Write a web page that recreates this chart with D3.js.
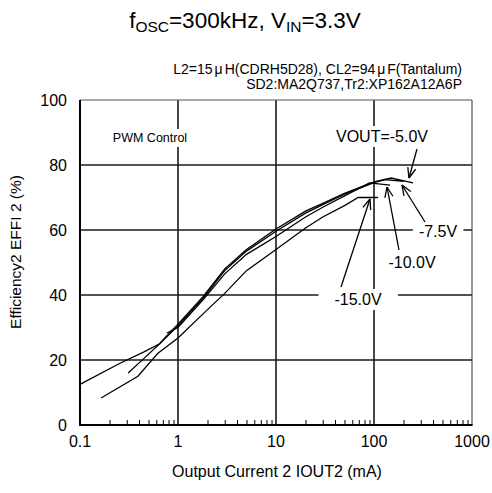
<!DOCTYPE html>
<html><head><meta charset="utf-8">
<script src="https://cdn.jsdelivr.net/npm/d3@7"></script>
<style>body{margin:0;background:#fff}svg{display:block}text{font-family:Arial,"Liberation Sans",sans-serif;fill:#000}</style>
</head><body><svg id="c" width="492" height="493"></svg>
<script>
// ---- data ----
const xTicks = [0.1, 1, 10, 100, 1000];
const xTickLabels = ["0.1", "1", "10", "100", "1000"];
const yTicks = [0, 20, 40, 60, 80, 100];
const seriesNames = ["VOUT=-5.0V", "-7.5V", "-10.0V", "-15.0V"];
const i5 = [0.1, 0.256, 0.45, 0.65, 0.77, 1, 1.8, 3, 5, 10, 20, 30, 50, 100, 150, 250];
const e5 = [12.5, 19, 22.5, 25, 27.5, 31, 39.5, 48, 54, 60.3, 65.8, 68.2, 71.3, 74.8, 76, 74.5];
const i75 = [0.31, 0.45, 0.65, 1, 1.8, 3, 5, 10, 20, 30, 50, 100, 130, 200];
const e75 = [16, 20.5, 25, 30.5, 39, 47.5, 53.5, 59.6, 65.2, 67.8, 71, 74.6, 75.5, 75];
const i10 = [0.77, 1, 1.8, 3, 5, 10, 20, 30, 50, 90, 146];
const e10 = [28.3, 30, 38.5, 46.5, 52.5, 58, 64, 67, 70.5, 74.5, 73.8];
const i15 = [0.164, 0.39, 0.62, 1, 2, 3, 5, 10, 20, 30, 50, 69, 110];
const e15 = [8.3, 15, 22, 26.8, 35.5, 40.5, 47.5, 54, 60.6, 64, 67.5, 70, 70];

const svg = d3.select("#c");
const L = 80, R = 472, T = 100, B = 425;
const x = d3.scaleLog().domain([0.1, 1000]).range([L, R]);
const y = d3.scaleLinear().domain([0, 100]).range([B, T]);

// grid
const g = svg.append("g");
g.selectAll(".hg").data(yTicks.filter(v => v > 0 && v < 100)).enter().append("line")
  .attr("x1", L).attr("x2", R).attr("y1", d => y(d)).attr("y2", d => y(d))
  .attr("stroke", "#1a1a1a").attr("stroke-width", 1.6);
g.selectAll(".vg").data(xTicks.filter(v => v > 0.1 && v < 1000)).enter().append("line")
  .attr("y1", T).attr("y2", B).attr("x1", d => x(d)).attr("x2", d => x(d))
  .attr("stroke", "#1a1a1a").attr("stroke-width", 1.6);
// top/right frame
svg.append("line").attr("x1", L).attr("x2", R).attr("y1", T).attr("y2", T).attr("stroke", "#555").attr("stroke-width", 1);
svg.append("line").attr("x1", R).attr("x2", R).attr("y1", T).attr("y2", B).attr("stroke", "#333").attr("stroke-width", 1);

// bottom axis with minor ticks inside
const minor = [];
for (let d = 0.1; d < 1000; d *= 10) for (let k = 2; k <= 9; k++) minor.push(d * k);
const xAxis = d3.axisBottom(x).tickValues(minor).tickSize(-5).tickFormat("");
const ax = svg.append("g").attr("transform", `translate(0,${B})`).call(xAxis);
ax.select(".domain").remove();
ax.selectAll("line").attr("stroke", "#000").attr("stroke-width", 1);
svg.append("line").attr("x1", L - 1).attr("x2", R + 0.5).attr("y1", B).attr("y2", B).attr("stroke", "#000").attr("stroke-width", 2);
svg.append("line").attr("x1", L).attr("x2", L).attr("y1", T).attr("y2", B + 1).attr("stroke", "#000").attr("stroke-width", 2);

// tick labels
svg.selectAll(".xl").data(xTicks).enter().append("text")
  .attr("x", d => x(d)).attr("y", 447).attr("text-anchor", "middle").attr("font-size", 16)
  .text((d, i) => xTickLabels[i]);
svg.selectAll(".yl").data(yTicks).enter().append("text")
  .attr("x", 67).attr("y", d => y(d) + 6).attr("text-anchor", "end").attr("font-size", 16)
  .text(d => d);

// axis titles
svg.append("text").attr("x", 277).attr("y", 477).attr("text-anchor", "middle").attr("font-size", 16)
  .text("Output Current 2 IOUT2 (mA)");
svg.append("text").attr("transform", "translate(21,252) rotate(-90)").attr("text-anchor", "middle").attr("font-size", 15.5)
  .text("Efficiency2 EFFI 2 (%)");

// title
const t = svg.append("text").attr("x", 245).attr("y", 28).attr("text-anchor", "middle").attr("font-size", 22.5);
t.append("tspan").text("f");
t.append("tspan").attr("font-size", 15.5).attr("dy", 4).text("OSC");
t.append("tspan").attr("dy", -4).text("=300kHz, V");
t.append("tspan").attr("font-size", 15.5).attr("dy", 4).text("IN");
t.append("tspan").attr("dy", -4).text("=3.3V");

const s1 = svg.append("text").attr("x", 462).attr("y", 74).attr("text-anchor", "end").attr("font-size", 14);
s1.append("tspan").text("L2=15");
s1.append("tspan").attr("dx", 2).text("\u03bc");
s1.append("tspan").attr("dx", 2).text("H(CDRH5D28),  CL2=94");
s1.append("tspan").attr("dx", 2).text("\u03bc");
s1.append("tspan").attr("dx", 2).text("F(Tantalum)");
svg.append("text").attr("x", 462).attr("y", 89).attr("text-anchor", "end").attr("font-size", 14)
  .text("SD2:MA2Q737,Tr2:XP162A12A6P");

// curves
const line = d3.line().x(d => x(d[0])).y(d => y(d[1]));
const data = [[i5, e5], [i75, e75], [i10, e10], [i15, e15]].map(([a, b]) => a.map((v, k) => [v, b[k]]));
svg.selectAll(".curve").data(data).enter().append("path")
  .attr("d", line).attr("fill", "none").attr("stroke", "#000").attr("stroke-width", 1.3);

// labels with white boxes
function label(txt, cx, by, fs, pad) {
  const el = svg.append("text").attr("x", cx).attr("y", by).attr("text-anchor", "middle").attr("font-size", fs).text(txt);
  const bb = el.node().getBBox();
  svg.insert("rect", () => el.node()).attr("x", bb.x - pad).attr("y", bb.y - 2).attr("width", bb.width + 2 * pad).attr("height", bb.height + 4).attr("fill", "#fff");
}
label("PWM  Control", 150, 142, 12.5, 3);
label(seriesNames[0], 382, 142, 16, 4);
label(seriesNames[1], 438, 237, 16, 6);
label(seriesNames[2], 412, 268, 16, 4);
label(seriesNames[3], 358, 305, 16, 16);

// arrows (open heads)
function arrow(x1, y1, x2, y2) {
  svg.append("line").attr("x1", x1).attr("y1", y1).attr("x2", x2).attr("y2", y2).attr("stroke", "#000").attr("stroke-width", 1.3);
  const a = Math.atan2(y1 - y2, x1 - x2), len = 11, sp = 0.38;
  [a - sp, a + sp].forEach(b => svg.append("line").attr("x1", x2).attr("y1", y2)
    .attr("x2", x2 + len * Math.cos(b)).attr("y2", y2 + len * Math.sin(b)).attr("stroke", "#000").attr("stroke-width", 1.3));
}
arrow(417, 149, 409, 178);
arrow(425, 222, 402, 185);
arrow(399, 250, 387, 187);
arrow(341, 287, 370, 199);
</script></body></html>
